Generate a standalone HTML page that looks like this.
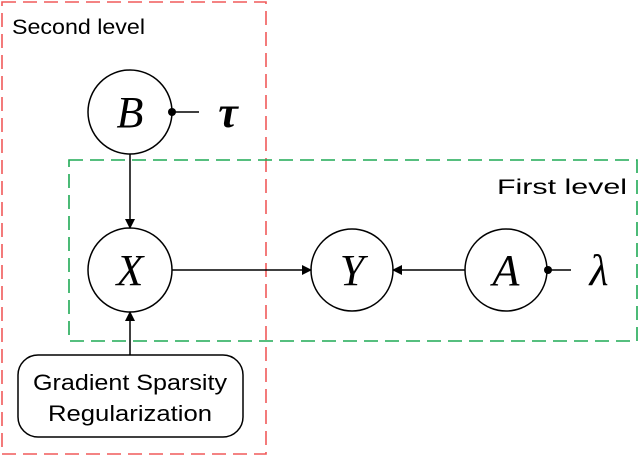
<!DOCTYPE html>
<html><head><style>body{margin:0;background:#fff}</style></head><body>
<svg width="640" height="457" xmlns="http://www.w3.org/2000/svg">
<defs><marker id="ar" markerWidth="10" markerHeight="10" refX="9" refY="5" orient="auto" markerUnits="userSpaceOnUse"><path d="M0,0 L10,5 L0,10 z" fill="#000"/></marker></defs>
<rect x="2" y="2" width="264" height="452" fill="none" stroke="#f05a5a" stroke-width="1.6" stroke-dasharray="14,7"/>
<rect x="69" y="160" width="568" height="181" fill="none" stroke="#1faa55" stroke-width="1.6" stroke-dasharray="14,7"/>
<text x="12" y="34" font-family="Liberation Sans, sans-serif" font-size="21" textLength="133" lengthAdjust="spacingAndGlyphs">Second level</text>
<text x="497" y="194" font-family="Liberation Sans, sans-serif" font-size="21" textLength="130" lengthAdjust="spacingAndGlyphs">First level</text>
<g fill="none" stroke="#000" stroke-width="1.5">
<circle cx="130" cy="112" r="42"/><circle cx="130" cy="270" r="42"/><circle cx="352" cy="270" r="41"/><circle cx="506" cy="270" r="41"/>
<rect x="18" y="355" width="225" height="82" rx="20"/>
<line x1="130" y1="154" x2="130" y2="228" marker-end="url(#ar)"/>
<line x1="172" y1="270" x2="311" y2="270" marker-end="url(#ar)"/>
<line x1="465" y1="270" x2="393" y2="270" marker-end="url(#ar)"/>
<line x1="130" y1="355" x2="130" y2="312" marker-end="url(#ar)"/>
<line x1="172" y1="112" x2="199" y2="112"/><line x1="548" y1="270" x2="571" y2="270"/>
</g>
<circle cx="172" cy="112" r="4"/><circle cx="548" cy="270" r="4"/>
<g font-family="Liberation Serif, serif" font-style="italic" font-size="44" text-anchor="middle">
<text x="130" y="127">B</text><text x="130" y="285">X</text><text x="352" y="285">Y</text><text x="506" y="285">A</text>
<text x="228" y="127" font-weight="bold">τ</text><text x="599" y="285">λ</text>
</g>
<g font-family="Liberation Sans, sans-serif" font-size="22" text-anchor="middle">
<text x="130" y="390" textLength="194" lengthAdjust="spacingAndGlyphs">Gradient Sparsity</text><text x="130" y="421" textLength="164" lengthAdjust="spacingAndGlyphs">Regularization</text>
</g>
</svg>
</body></html>
